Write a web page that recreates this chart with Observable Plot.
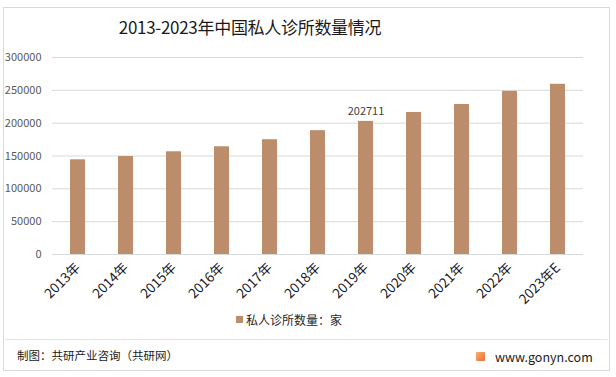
<!DOCTYPE html>
<html>
<head>
<meta charset="utf-8">
<script src="https://cdn.jsdelivr.net/npm/d3@7"></script>
<script src="https://cdn.jsdelivr.net/npm/@observablehq/plot@0.6"></script>
<style>
  body { margin:0; background:#fff; font-family:"Noto Sans CJK SC","Noto Sans",sans-serif; }
  #wrap { position:relative; width:616px; height:377px; overflow:hidden; background:#fff; }
  #frame { position:absolute; left:3px; top:7px; width:607px; height:364px; border:1px solid #d9d9d9; box-sizing:border-box; }
  #title { position:absolute; left:0; width:500px; top:14px; text-align:center; font-size:17px; color:#1a1a1a; letter-spacing:-0.3px; }
  #chart { position:absolute; left:0; top:40px; }
  #legend { position:absolute; top:311px; left:236px; font-size:12px; color:#262626; display:flex; align-items:center; }
  #legend .sw { width:7px; height:7px; background:#bb8d6b; margin-right:3px; }
  #sep { position:absolute; left:5px; width:602px; top:339px; height:1px; background:#e3e3e3; }
  #credit { position:absolute; left:17px; top:347px; font-size:11.5px; color:#1a1a1a; }
  #site { position:absolute; left:476px; top:347px; font-size:12.5px; color:#1a1a1a; display:flex; align-items:center; }
  #site .logo { width:9px; height:9px; background:linear-gradient(135deg,#f7b267,#f06a3a); margin-right:10px; border-radius:1px; }
</style>
</head>
<body>
<div id="wrap">
  <div id="frame"></div>
  <div id="title">2013-2023年中国私人诊所数量情况</div>
  <div id="chart"></div>
  <div id="legend"><span class="sw"></span><span>私人诊所数量：家</span></div>
  <div id="sep"></div>
  <div id="credit">制图：共研产业咨询（共研网）</div>
  <div id="site"><span class="logo"></span><span>www.gonyn.com</span></div>
</div>
<script>
const years = ["2013年","2014年","2015年","2016年","2017年","2018年","2019年","2020年","2021年","2022年","2023年E"];
const clinics = [144200, 149200, 156400, 164100, 174800, 188600, 202711, 216300, 228500, 248500, 259200];
const yTicks = [0, 50000, 100000, 150000, 200000, 250000, 300000];
const labeledYear = ["2019年"];

const data = years.map((y, i) => ({year: y, value: clinics[i]}));
const labelData = data.filter(d => labeledYear.includes(d.year));

const chart = Plot.plot({
  width: 616,
  height: 270,
  marginTop: 17,
  marginBottom: 56,
  marginLeft: 52,
  marginRight: 33,
  style: {fontFamily: '"Noto Sans CJK SC","Noto Sans",sans-serif', background: "transparent", overflow: "visible", color: "#595959"},
  x: {domain: years, paddingInner: 0.69, paddingOuter: 0.345, label: null},
  y: {domain: [0, 300000], label: null},
  marks: [
    Plot.gridY(yTicks, {stroke: "#d9d9d9", strokeOpacity: 1}),
    Plot.axisY(yTicks, {tickSize: 0, tickPadding: 11, tickFormat: d => String(d), fontSize: 11, fill: "#595959", label: null}),
    Plot.barY(data, {x: "year", y: "value", fill: "#bb8d6b"}),
    Plot.ruleY([0], {stroke: "#d9d9d9"}),
    Plot.axisX({tickSize: 0, tickRotate: -45, tickPadding: 11, fontSize: 13.5, fill: "#1a1a1a", label: null}),
    Plot.text(labelData, {x: "year", y: "value", text: d => String(d.value), dy: -10, fontSize: 11, fill: "#404040"})
  ]
});
document.getElementById("chart").appendChild(chart);
</script>
</body>
</html>
